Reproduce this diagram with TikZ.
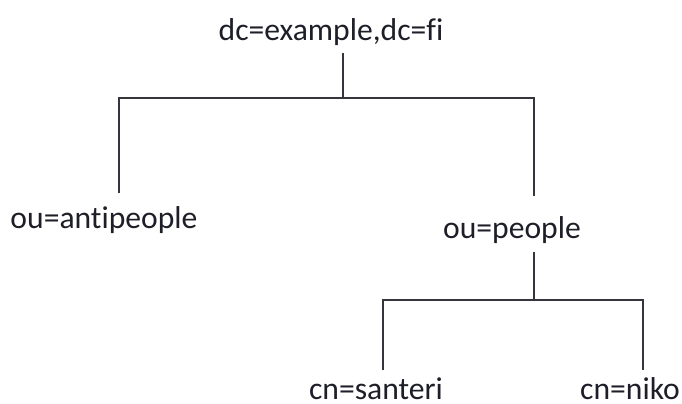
\documentclass[tikz,border=0pt]{standalone}
\usepackage{fontspec}
\setmainfont{Carlito}[Ligatures=NoCommon]
\definecolor{inkcol}{HTML}{1E1E28}
\tikzset{
    entry/.style={font=\fontsize{18}{21}\selectfont, text=inkcol, inner sep=0pt, anchor=base},
    branch/.style={draw=inkcol!90, line width=0.9pt}
}
\begin{document}
\begin{tikzpicture}[x=0.02cm, y=-0.02cm]
    \useasboundingbox (0,0) rectangle (682,403);

    % directory entries
    \node[entry] (root) at (331,40) {dc=example,dc=fi};
    \node[entry] (anti) at (104,228) {ou=antipeople};
    \node[entry] (people) at (512,238) {ou=people};
    \node[entry] (santeri) at (376,399) {cn=santeri};
    \node[entry] (niko) at (630,399) {cn=niko};

    % branch points
    \coordinate (rootjoin) at (343,98);
    \coordinate (peoplejoin) at (534,300);

    \draw[branch, shorten <=4.5pt] (root.south -| rootjoin) -- (rootjoin);
    \draw[branch, shorten >=7pt] (rootjoin) -- (119,98) -- (anti.north -| 119,98);
    \draw[branch, shorten >=11pt] (rootjoin) -- (534,98) -- (people.north -| 534,98);

    \draw[branch, shorten <=5pt] (people.south -| peoplejoin) -- (peoplejoin);
    \draw[branch, shorten >=4pt] (peoplejoin) -- (383,300) -- (santeri.north -| 383,300);
    \draw[branch, shorten >=4pt] (peoplejoin) -- (643,300) -- (niko.north -| 643,300);
\end{tikzpicture}
\end{document}
